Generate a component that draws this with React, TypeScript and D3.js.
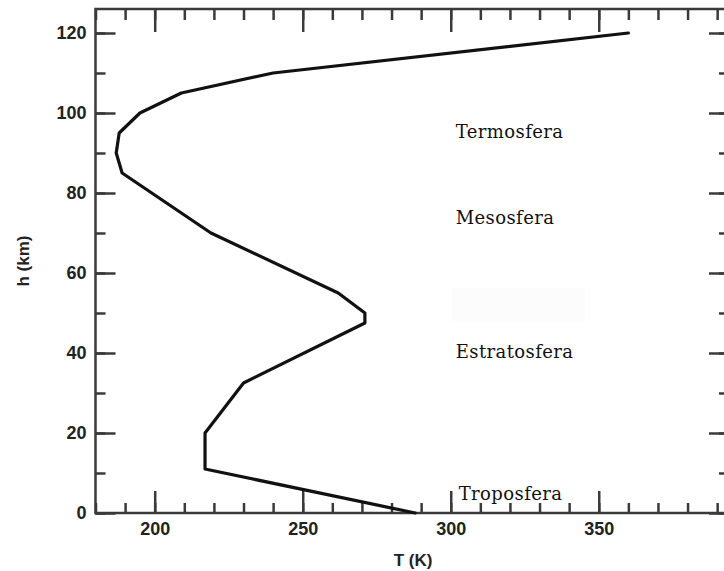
import React, { useEffect, useRef } from "react";
import * as d3 from "d3";

const temperatureK = [288, 217, 217, 230, 271, 271, 262, 219, 189, 187, 188, 195, 209, 240, 360];
const altitudeKm = [0, 11, 20, 32.5, 47.5, 50, 55, 70, 85, 90, 95, 100, 105, 110, 120];
const xMajorTicks = [200, 250, 300, 350];
const yMajorTicks = [0, 20, 40, 60, 80, 100, 120];
const layerNames = ["Termosfera", "Mesosfera", "Estratosfera", "Troposfera"];
const layerAnchors = [
  { T: 300, h: 93.75 },
  { T: 300, h: 72.25 },
  { T: 300, h: 38.75 },
  { T: 301, h: 3.25 },
];

const W = 724;
const H = 571;
const left = 95.5;
const right = 729;
const top = 9;
const bottom = 513;

export default function App() {
  const ref = useRef<SVGSVGElement>(null);

  useEffect(() => {
    const svg = d3.select(ref.current);
    svg.selectAll("*").remove();

    const x = d3.scaleLinear().domain([180, 394]).range([left, right]);
    const y = d3.scaleLinear().domain([0, 126]).range([bottom, top]);

    const xMinor = d3.range(180, 395, 10);
    const yMinor = d3.range(0, 127, 10);

    const axisColor = "#3a3a3a";
    const font = "'Liberation Sans', Arial, sans-serif";

    const g = svg.append("g");

    // faint patch (as in the scanned reference)
    g.append("rect")
      .attr("x", 452).attr("y", 288).attr("width", 133).attr("height", 33)
      .attr("fill", "#fcfcfc");

    const styleAxis = (sel: any, showLabels: boolean) => {
      sel.select(".domain").remove();
      sel.selectAll(".tick line").attr("stroke", axisColor).attr("stroke-width", 2.5);
      if (!showLabels) sel.selectAll(".tick text").remove();
      else
        sel.selectAll(".tick text")
          .attr("font-family", font)
          .attr("font-weight", "bold")
          .attr("font-size", 18)
          .attr("fill", "#222");
    };

    // bottom axis
    g.append("g").attr("transform", `translate(0,${bottom})`)
      .call(d3.axisTop(x).tickValues(xMinor).tickSize(10).tickFormat(() => ""))
      .call((s: any) => styleAxis(s, false));
    g.append("g").attr("transform", `translate(0,${bottom})`)
      .call(d3.axisTop(x).tickValues(xMajorTicks).tickSize(22).tickFormat(() => ""))
      .call((s: any) => styleAxis(s, false));
    g.append("g").attr("transform", `translate(0,${bottom})`)
      .call(d3.axisBottom(x).tickValues(xMajorTicks).tickSize(0).tickPadding(9).tickFormat(d3.format("d")))
      .call((s: any) => styleAxis(s, true));

    // top axis
    g.append("g").attr("transform", `translate(0,${top})`)
      .call(d3.axisBottom(x).tickValues(xMinor).tickSize(11).tickFormat(() => ""))
      .call((s: any) => styleAxis(s, false));
    g.append("g").attr("transform", `translate(0,${top})`)
      .call(d3.axisBottom(x).tickValues(xMajorTicks).tickSize(23).tickFormat(() => ""))
      .call((s: any) => styleAxis(s, false));

    // left axis
    g.append("g").attr("transform", `translate(${left},0)`)
      .call(d3.axisRight(y).tickValues(yMinor).tickSize(10).tickFormat(() => ""))
      .call((s: any) => styleAxis(s, false));
    g.append("g").attr("transform", `translate(${left},0)`)
      .call(d3.axisRight(y).tickValues(yMajorTicks).tickSize(20).tickFormat(() => ""))
      .call((s: any) => styleAxis(s, false));
    g.append("g").attr("transform", `translate(${left},0)`)
      .call(d3.axisLeft(y).tickValues(yMajorTicks).tickSize(0).tickPadding(9).tickFormat(d3.format("d")))
      .call((s: any) => styleAxis(s, true));

    // right axis
    g.append("g").attr("transform", `translate(${right},0)`)
      .call(d3.axisLeft(y).tickValues(yMinor).tickSize(10).tickFormat(() => ""))
      .call((s: any) => styleAxis(s, false));
    g.append("g").attr("transform", `translate(${right},0)`)
      .call(d3.axisLeft(y).tickValues(yMajorTicks).tickSize(20).tickFormat(() => ""))
      .call((s: any) => styleAxis(s, false));

    // frame
    g.append("rect")
      .attr("x", left).attr("y", top)
      .attr("width", right - left).attr("height", bottom - top)
      .attr("fill", "none").attr("stroke", axisColor).attr("stroke-width", 2.5);

    // curve
    const pts = temperatureK.map((t, i) => [t, altitudeKm[i]] as [number, number]);
    const line = d3.line<[number, number]>().x((d) => x(d[0])).y((d) => y(d[1]));
    g.append("path")
      .attr("d", line(pts) as string)
      .attr("fill", "none")
      .attr("stroke", "#111")
      .attr("stroke-width", 3.2)
      .attr("stroke-linejoin", "round")
      .attr("stroke-linecap", "round");

    // layer labels
    layerNames.forEach((name, i) => {
      g.append("text")
        .attr("x", x(layerAnchors[i].T) + 5)
        .attr("y", y(layerAnchors[i].h))
        .attr("font-family", "'DejaVu Serif', serif")
        .attr("font-size", 18)
        .attr("letter-spacing", 0.4)
        .attr("fill", "#111")
        .text(name);
    });

    // axis titles
    g.append("text")
      .attr("x", 413).attr("y", 566)
      .attr("text-anchor", "middle")
      .attr("font-family", font).attr("font-weight", "bold").attr("font-size", 17)
      .attr("fill", "#222")
      .text("T (K)");
    g.append("text")
      .attr("transform", "translate(29,261) rotate(-90)")
      .attr("text-anchor", "middle")
      .attr("font-family", font).attr("font-weight", "bold").attr("font-size", 17)
      .attr("fill", "#222")
      .text("h (km)");
  }, []);

  return (
    <svg
      ref={ref}
      width={W}
      height={H}
      style={{ position: "absolute", left: 0, top: 0, background: "#fff" }}
    />
  );
}
